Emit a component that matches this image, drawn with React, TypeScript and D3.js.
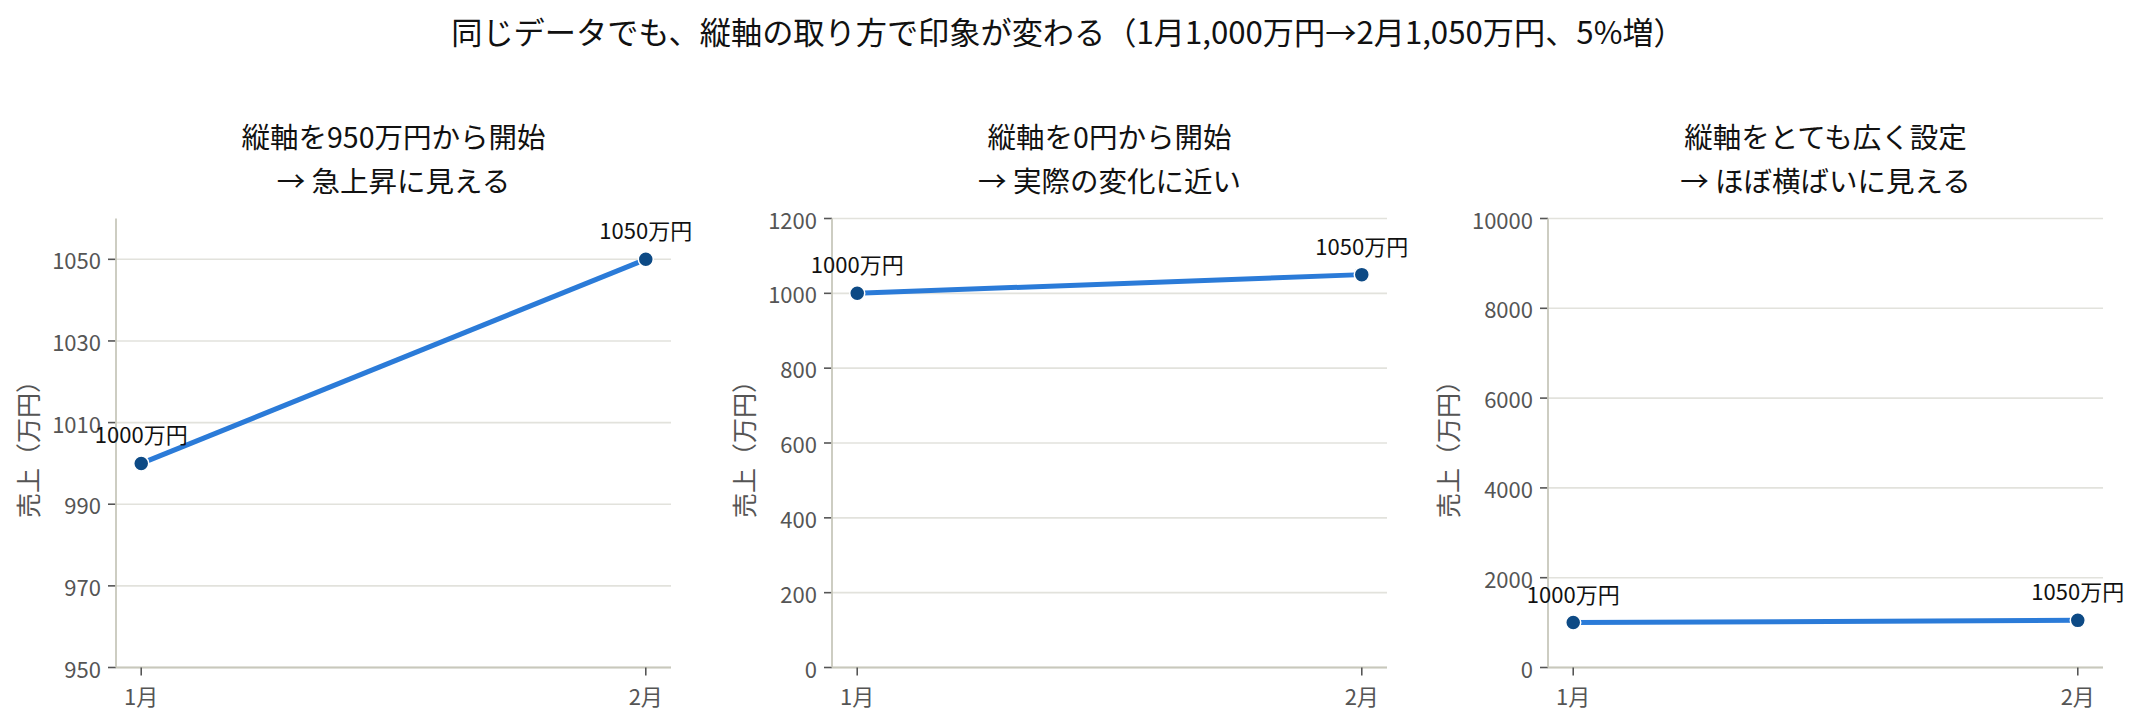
import * as d3 from 'd3'

const months = ['1月', '2月']
const sales = [1000, 1050]

const panelTitles = [
  ['縦軸を950万円から開始', '→ 急上昇に見える'],
  ['縦軸を0円から開始', '→ 実際の変化に近い'],
  ['縦軸をとても広く設定', '→ ほぼ横ばいに見える'],
]
const yDomains = [
  [950, 1060],
  [0, 1200],
  [0, 10000],
]
const yTicks = [
  [950, 970, 990, 1010, 1030, 1050],
  [0, 200, 400, 600, 800, 1000, 1200],
  [0, 2000, 4000, 6000, 8000, 10000],
]

const W = 2141
const H = 723
const FONT = '"Noto Sans CJK JP", "Noto Sans", sans-serif'

const plotTop = 218.5
const plotBottom = 667.5
const plotW = 555
const panelLefts = [116, 832, 1548]

const Panel = ({ idx }) => {
  const left = panelLefts[idx]
  const right = left + plotW
  // 5% margin on each side of the two points
  const xs = d3.scaleLinear().domain([-0.05, 1.05]).range([left, right])
  const y = d3.scaleLinear().domain(yDomains[idx]).range([plotBottom, plotTop])
  const cx = (i) => xs(i)

  const line = d3.line().x((d, i) => cx(i)).y((d) => y(d))
  const maxLen = d3.max(yTicks[idx], (t) => String(t).length)
  const labelX = left - 15 - maxLen * 12.2 - 25
  const midX = (left + right) / 2

  return (
    <g>
      <text x={midX} y={135} textAnchor="middle" dominantBaseline="central" fontSize={28.5} fill="#111">
        {panelTitles[idx][0]}
      </text>
      <text x={midX} y={179} textAnchor="middle" dominantBaseline="central" fontSize={28.5} fill="#111">
        {panelTitles[idx][1]}
      </text>

      {yTicks[idx].map((t) => (
        <g key={t}>
          <line x1={left} x2={right} y1={y(t)} y2={y(t)} stroke="#e2e2dc" strokeWidth={1.6} />
          <line x1={left - 8} x2={left} y1={y(t)} y2={y(t)} stroke="#555" strokeWidth={1.6} />
          <text x={left - 15} y={y(t)} textAnchor="end" dominantBaseline="central" fontSize={22} fill="#555">
            {t}
          </text>
        </g>
      ))}

      <line x1={left} x2={left} y1={plotTop} y2={plotBottom} stroke="#c8c8bc" strokeWidth={1.8} />
      <line x1={left} x2={right} y1={plotBottom} y2={plotBottom} stroke="#c8c8bc" strokeWidth={1.8} />

      {months.map((m, i) => (
        <g key={m}>
          <line x1={cx(i)} x2={cx(i)} y1={plotBottom} y2={plotBottom + 8} stroke="#555" strokeWidth={1.6} />
          <text x={cx(i)} y={695} textAnchor="middle" dominantBaseline="central" fontSize={22} fill="#555">
            {m}
          </text>
        </g>
      ))}

      <text
        transform={`translate(${labelX},${(plotTop + plotBottom) / 2}) rotate(-90)`}
        textAnchor="middle"
        dominantBaseline="central"
        fontSize={25}
        fill="#555"
      >
        売上（万円）
      </text>

      <path d={line(sales)} fill="none" stroke="#2b7bd8" strokeWidth={5} />
      {sales.map((v, i) => (
        <g key={i}>
          <circle cx={cx(i)} cy={y(v)} r={7.5} fill="#0d4a85" stroke="#fff" strokeWidth={1.5} />
          <text x={cx(i)} y={y(v) - 30} textAnchor="middle" dominantBaseline="central" fontSize={22} fill="#111">
            {`${v}万円`}
          </text>
        </g>
      ))}
    </g>
  )
}

export default function App() {
  return (
    <svg
      width={W}
      height={H}
      style={{ position: 'absolute', left: 0, top: 0, background: '#fff' }}
      fontFamily={FONT}
    >
      <rect width={W} height={H} fill="#fff" />
      <text x={1068} y={30} textAnchor="middle" dominantBaseline="central" fontSize={31.2} fill="#111">
        同じデータでも、縦軸の取り方で印象が変わる（1月1,000万円→2月1,050万円、5%増）
      </text>
      {panelLefts.map((_, i) => (
        <Panel key={i} idx={i} />
      ))}
    </svg>
  )
}
